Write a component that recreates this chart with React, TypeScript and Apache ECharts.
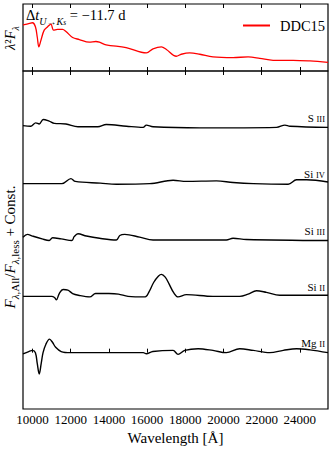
import React, { useEffect, useRef } from "react";
import * as echarts from "echarts";

const X_MIN = 9500;
const X_MAX = 25475;
const tickValues = [10000, 12000, 14000, 16000, 18000, 20000, 22000, 24000];

const ddcWave = [9500, 9840, 10000, 10150, 10250, 10330, 10440, 10610, 10790, 10960, 11100, 11310, 11570, 11750, 12100, 12450, 12970, 13320, 13500, 13850, 14900, 15960, 16310, 16750, 17010, 17530, 17790, 18230, 18760, 19450, 20500, 21290, 21900, 22600, 23650, 24530, 25475];
const ddcFlux = [0.687, 0.71, 0.72, 0.66, 0.5, 0.36, 0.46, 0.61, 0.66, 0.7, 0.61, 0.62, 0.62, 0.59, 0.5, 0.47, 0.43, 0.44, 0.43, 0.39, 0.35, 0.27, 0.33, 0.36, 0.32, 0.22, 0.25, 0.27, 0.25, 0.21, 0.2, 0.21, 0.19, 0.16, 0.16, 0.15, 0.13];

const speciesElements = ["S", "Si", "Si", "Si", "Mg"];
const speciesIons = ["III", "IV", "III", "II", "II"];
const speciesOffsets = [4, 3, 2, 1, 0];

const s3Wave = [9500, 9900, 10170, 10350, 10560, 10870, 11140, 11750, 12380, 13420, 13860, 14920, 15790, 15960, 16310, 18760, 22780, 23220, 23480, 25475];
const s3Ratio = [0.03, 0.02, 0.08, 0.06, 0.14, 0.11, 0.07, 0.06, 0.01, 0.01, 0.05, 0.02, 0.0, 0.04, 0.01, -0.01, 0.0, 0.04, 0.02, 0.0];

const si4Wave = [9500, 11540, 12010, 12240, 13550, 14390, 16140, 17360, 18060, 19630, 20500, 21560, 23390, 23830, 24360, 25475];
const si4Ratio = [0.0, 0.0, 0.09, 0.04, 0.01, -0.01, 0.0, 0.06, 0.04, 0.05, 0.02, 0.0, -0.01, 0.07, 0.07, 0.03];

const si3Wave = [9500, 9730, 10000, 10500, 10870, 11050, 11500, 12060, 12180, 12380, 12820, 13510, 14390, 14570, 14830, 15610, 16310, 20150, 20500, 21200, 25475];
const si3Ratio = [0.05, 0.1, 0.07, 0.02, -0.01, 0.04, 0.02, -0.01, 0.06, 0.11, 0.07, 0.03, 0.0, 0.08, 0.1, 0.05, 0.0, 0.0, 0.03, 0.01, -0.01];

const si2Wave = [9500, 10500, 11000, 11150, 11250, 11400, 11600, 11850, 12100, 12400, 13000, 13300, 13600, 14000, 14500, 15000, 15900, 16100, 16350, 16600, 16750, 16950, 17150, 17400, 17620, 18060, 19450, 20850, 21290, 21730, 22250, 22950, 25475];
const si2Ratio = [0.0, 0.0, 0.0, -0.02, -0.06, 0.05, 0.12, 0.11, 0.05, 0.02, -0.01, 0.05, 0.05, 0.05, 0.04, 0.0, -0.01, 0.08, 0.25, 0.36, 0.39, 0.34, 0.22, 0.06, -0.01, 0.03, 0.0, 0.0, 0.04, 0.1, 0.07, 0.02, 0.02];

const mg2Wave = [9500, 9800, 10000, 10150, 10250, 10350, 10450, 10550, 10700, 10890, 11050, 11200, 11500, 12000, 14000, 15800, 15960, 16300, 17360, 17620, 17970, 18670, 19450, 20150, 20850, 21560, 22430, 23130, 23830, 24530, 25475];
const mg2Ratio = [-0.02, 0.02, 0.04, 0.0, -0.2, -0.38, -0.2, 0.0, 0.15, 0.24, 0.18, 0.1, 0.02, 0.0, 0.0, 0.0, -0.02, 0.02, 0.04, -0.03, 0.04, 0.07, 0.04, 0.0, 0.07, 0.04, 0.0, 0.04, 0.07, 0.05, 0.0];

const speciesWaves = [s3Wave, si4Wave, si3Wave, si2Wave, mg2Wave];
const speciesRatios = [s3Ratio, si4Ratio, si3Ratio, si2Ratio, mg2Ratio];

const FONT = "Liberation Serif";

export default function App() {
  const ref = useRef<HTMLDivElement>(null);
  useEffect(() => {
    if (!ref.current) return;
    const chart = echarts.init(ref.current, undefined, { renderer: "svg" });

    const xCommon = (gridIndex: number, position: "top" | "bottom", labels: boolean) => ({
      type: "value",
      gridIndex,
      position,
      min: X_MIN,
      max: X_MAX,
      axisLine: { show: false },
      splitLine: { show: false },
      axisTick: {
        show: true,
        inside: true,
        length: 4,
        customValues: tickValues,
        lineStyle: { color: "#000", width: 1 },
      },
      axisLabel: {
        show: labels,
        customValues: tickValues,
        formatter: (v: number) => String(v),
        margin: 4,
        color: "#000",
        fontFamily: FONT,
        fontSize: 13,
      },
    });

    const series: any[] = [
      {
        type: "line",
        name: "DDC15",
        xAxisIndex: 0,
        yAxisIndex: 0,
        data: ddcWave.map((w, i) => [w, ddcFlux[i]]),
        showSymbol: false,
        smooth: 0.35,
        lineStyle: { color: "#ff0000", width: 1.3 },
        itemStyle: { color: "#ff0000" },
      },
    ];
    speciesWaves.forEach((wv, k) => {
      series.push({
        type: "line",
        name: speciesElements[k] + " " + speciesIons[k],
        xAxisIndex: 2,
        yAxisIndex: 1,
        data: wv.map((w, i) => [w, speciesOffsets[k] + speciesRatios[k][i]]),
        showSymbol: false,
        smooth: 0.35,
        lineStyle: { color: "#000", width: 1.4 },
      });
    });

    const baseGraphics: any[] = [
      {
        type: "text",
        id: "dt",
        x: 26,
        y: 15,
        style: {
          text: "{n|Δ}{i|t}{s|U→K}{ss|s}{n| = −11.7 d}",
          align: "left",
          verticalAlign: "middle",
          fill: "#000",
          rich: {
            n: { fontFamily: FONT, fontSize: 14.5, lineHeight: 14 },
            i: { fontFamily: FONT, fontSize: 14.5, fontStyle: "italic", lineHeight: 14 },
            s: { fontFamily: FONT, fontSize: 10, fontStyle: "italic", lineHeight: 20, verticalAlign: "bottom" },
            ss: { fontFamily: FONT, fontSize: 7.5, fontStyle: "italic", lineHeight: 22, verticalAlign: "bottom" },
          },
        },
      },
      {
        type: "text",
        id: "ylab1",
        x: 10,
        y: 38,
        rotation: Math.PI / 2,
        style: {
          text: "{i|λ}{n|²}{i|F}{s|λ}",
          align: "center",
          verticalAlign: "middle",
          fill: "#000",
          rich: {
            n: { fontFamily: FONT, fontSize: 14.5, lineHeight: 14 },
            i: { fontFamily: FONT, fontSize: 14.5, fontStyle: "italic", lineHeight: 14 },
            s: { fontFamily: FONT, fontSize: 10, fontStyle: "italic", lineHeight: 20, verticalAlign: "bottom" },
          },
        },
      },
      {
        type: "text",
        id: "ylab2",
        x: 10,
        y: 247,
        rotation: Math.PI / 2,
        style: {
          text: "{i|F}{si|λ}{s|,All}{n|/}{i|F}{si|λ}{s|,less}{n| + Const.}",
          align: "center",
          verticalAlign: "middle",
          fill: "#000",
          rich: {
            n: { fontFamily: FONT, fontSize: 15, lineHeight: 15 },
            i: { fontFamily: FONT, fontSize: 15, fontStyle: "italic", lineHeight: 15 },
            si: { fontFamily: FONT, fontSize: 11, fontStyle: "italic", lineHeight: 21, verticalAlign: "bottom" },
            s: { fontFamily: FONT, fontSize: 11, lineHeight: 21, verticalAlign: "bottom" },
          },
        },
      },
      {
        type: "text",
        id: "xlab",
        x: 175.5,
        y: 438,
        style: {
          text: "Wavelength [Å]",
          align: "center",
          verticalAlign: "middle",
          fill: "#000",
          fontFamily: FONT,
          fontSize: 15,
        },
      },
    ];

    chart.setOption({
      animation: false,
      backgroundColor: "#fff",
      grid: [
        { left: 23, right: 4, top: 4, height: 67, show: true, borderColor: "#000", borderWidth: 1.2, backgroundColor: "transparent" },
        { left: 23, right: 4, top: 71, bottom: 41, show: true, borderColor: "#000", borderWidth: 1.2, backgroundColor: "transparent" },
      ],
      xAxis: [
        xCommon(0, "bottom", false),
        xCommon(0, "top", false),
        xCommon(1, "bottom", true),
        xCommon(1, "top", false),
      ],
      yAxis: [
        { type: "value", gridIndex: 0, min: 0, max: 1, show: false },
        { type: "value", gridIndex: 1, min: -1, max: 5, show: false },
      ],
      legend: {
        data: [{ name: "DDC15", icon: "rect" }],
        left: 238,
        top: 13,
        itemWidth: 27,
        itemHeight: 2,
        textStyle: { fontFamily: FONT, fontSize: 14.5, color: "#000", padding: [0, 0, 0, 5] },
      },
      series,
      graphic: baseGraphics,
    });

    const labelGraphics = speciesOffsets.map((off, k) => {
      const p = chart.convertToPixel({ gridIndex: 1 }, [X_MAX, off]) as number[];
      return {
        type: "text",
        id: "sp" + k,
        x: p[0] - 3,
        y: p[1] - 4,
        style: {
          text: "{e|" + speciesElements[k] + " }{r|" + speciesIons[k] + "}",
          align: "right",
          verticalAlign: "bottom",
          fill: "#000",
          rich: {
            e: { fontFamily: FONT, fontSize: 11, lineHeight: 11, verticalAlign: "bottom" },
            r: { fontFamily: FONT, fontSize: 8.5, lineHeight: 11, verticalAlign: "bottom" },
          },
        },
      };
    });
    chart.setOption({ graphic: [...baseGraphics, ...labelGraphics] });

    return () => chart.dispose();
  }, []);
  return <div ref={ref} style={{ width: 332, height: 450, position: "absolute", left: 0, top: 0 }} />;
}
